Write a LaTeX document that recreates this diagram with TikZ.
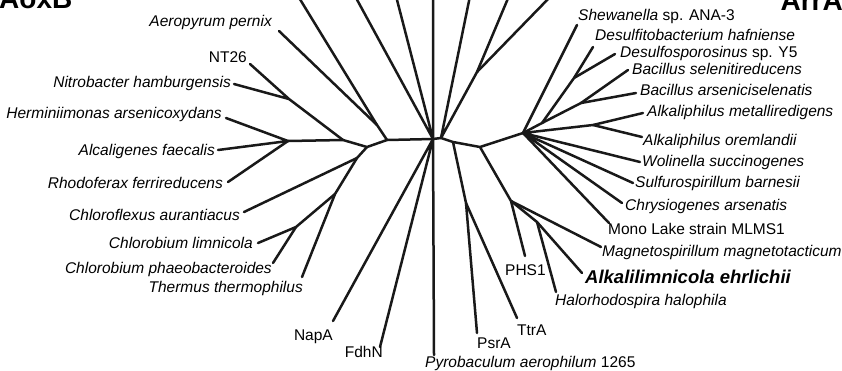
\documentclass[tikz,border=0pt]{standalone}
\usepackage{fontspec}
\setmainfont{Liberation Sans}
\usepackage{xcolor}
\usepackage{tikz}
\usetikzlibrary{positioning}

\begin{document}
\begin{tikzpicture}[x=1pt, y=-1pt,
        branch/.style={line width=2.5pt, line cap=round, line join=round, draw=black!90},
        taxon/.style={font=\fontsize{15.5}{18}\selectfont\itshape, inner sep=0pt},
        strain/.style={font=\fontsize{15.5}{18}\selectfont, inner sep=0pt},
        enzyme/.style={font=\fontsize{28}{32}\selectfont\bfseries, inner sep=0pt}]

        \useasboundingbox (0,0) rectangle (842,370);

        \coordinate (root) at (433,139);
        \coordinate (rootr) at (441,138);
        \coordinate (a) at (387,140);
        \coordinate (n1) at (377,125);
        \coordinate (b) at (367,147);
        \coordinate (c) at (343,140);
        \coordinate (nn) at (289,99);
        \coordinate (e) at (288,141);
        \coordinate (d) at (357,158);
        \coordinate (f) at (335,194);
        \coordinate (g) at (296,227);
        \coordinate (tr) at (477,72);
        \coordinate (j1) at (453,142);
        \coordinate (h) at (466,203);
        \coordinate (j) at (480,147);
        \coordinate (k) at (523,133);
        \coordinate (t) at (542,123);
        \coordinate (p) at (574,78);
        \coordinate (q) at (581,103);
        \coordinate (s) at (593,125);
        \coordinate (l) at (511,201);
        \coordinate (m) at (537,222);

        \coordinate (top1) at (298,-4);
        \coordinate (top2) at (355,-4);
        \coordinate (top3) at (396,-4);
        \coordinate (top4) at (433,-4);
        \coordinate (top5) at (470,-4);
        \coordinate (top6) at (509,-4);
        \coordinate (top7) at (551,-4);

        \coordinate (aero) at (279,31);
        \coordinate (nt26) at (250,64);
        \coordinate (nitro) at (234,84);
        \coordinate (hermi) at (226,118);
        \coordinate (alcal) at (218,150);
        \coordinate (rhodo) at (228,182);
        \coordinate (chlorof) at (244,212);
        \coordinate (climn) at (258,243);
        \coordinate (cphaeo) at (273,263);
        \coordinate (thermus) at (302,277);
        \coordinate (napa) at (333,321);
        \coordinate (fdhn) at (380,347);
        \coordinate (pyro) at (434,355);
        \coordinate (psra) at (477,333);
        \coordinate (ttra) at (517,318);
        \coordinate (phs1) at (525,256);
        \coordinate (halo) at (556,292);
        \coordinate (alkali) at (582,273);
        \coordinate (magneto) at (601,247);
        \coordinate (mono) at (609,223);
        \coordinate (chrysio) at (622,203);
        \coordinate (sulfur) at (633,183);
        \coordinate (wolin) at (640,162);
        \coordinate (oreml) at (642,137);
        \coordinate (metal) at (643,113);
        \coordinate (bacars) at (636,93);
        \coordinate (bacsel) at (628,70);
        \coordinate (desulfo) at (615,54);
        \coordinate (desulfito) at (593,47);
        \coordinate (shew) at (577,25);

        \draw[branch] (top4) -- (root) -- (pyro);
        \draw[branch] (top2) -- (root) -- (top3);
        \draw[branch] (napa) -- (root) -- (fdhn);
        \draw[branch] (a) -- (root) -- (rootr) -- (j1) -- (j) -- (k);
        \draw[branch] (top5) -- (rootr) -- (tr) -- (top6);
        \draw[branch] (tr) -- (top7);

        \draw[branch] (top1) -- (n1) -- (a) -- (b) -- (c) -- (e);
        \draw[branch] (aero) -- (n1);
        \draw[branch] (nt26) -- (nn) -- (nitro);
        \draw[branch] (nn) -- (c);
        \draw[branch] (hermi) -- (e) -- (alcal);
        \draw[branch] (rhodo) -- (e);
        \draw[branch] (b) -- (d) -- (chlorof);
        \draw[branch] (d) -- (f) -- (thermus);
        \draw[branch] (f) -- (g) -- (climn);
        \draw[branch] (g) -- (cphaeo);

        \draw[branch] (j1) -- (h) -- (psra);
        \draw[branch] (h) -- (ttra);
        \draw[branch] (j) -- (l) -- (phs1);
        \draw[branch] (l) -- (magneto);
        \draw[branch] (l) -- (m) -- (alkali);
        \draw[branch] (m) -- (halo);

        \draw[branch] (shew) -- (k) -- (mono);
        \draw[branch] (chrysio) -- (k) -- (sulfur);
        \draw[branch] (wolin) -- (k) -- (s) -- (metal);
        \draw[branch] (s) -- (oreml);
        \draw[branch] (k) -- (t) -- (p) -- (desulfito);
        \draw[branch] (p) -- (desulfo);
        \draw[branch] (t) -- (q) -- (bacsel);
        \draw[branch] (q) -- (bacars);

        \node[enzyme, anchor=base west] (aoxb) at (-1,8) {AoxB};
        \node[enzyme, anchor=base east] (arra) at (843,10) {ArrA};

        \node[taxon, anchor=base east] (aeroL) at (272,26) {Aeropyrum pernix};
        \node[strain, anchor=base east] (nt26L) at (247,62) {NT26};
        \node[taxon, anchor=base east] (nitroL) at (231,87) {Nitrobacter hamburgensis};
        \node[taxon, anchor=base east] (hermiL) at (222,118) {Herminiimonas arsenicoxydans};
        \node[taxon, anchor=base east] (alcalL) at (215,155) {Alcaligenes faecalis};
        \node[taxon, anchor=base east] (rhodoL) at (223,188) {Rhodoferax ferrireducens};
        \node[taxon, anchor=base east] (chlorofL) at (240,220) {Chloroflexus aurantiacus};
        \node[taxon, anchor=base east] (climnL) at (253,248) {Chlorobium limnicola};
        \node[taxon, anchor=base east] (cphaeoL) at (272,273) {Chlorobium phaeobacteroides};
        \node[taxon, anchor=base east] (thermusL) at (303,292) {Thermus thermophilus};
        \node[strain, anchor=base east] (napaL) at (333,340) {NapA};
        \node[strain, anchor=base east] (fdhnL) at (383,357) {FdhN};
        \node[strain, anchor=base west] (pyroL) at (425,367) {\textit{Pyrobaculum aerophilum} 1265};

        \node[strain, anchor=base west] (shewL) at (578,20) {\textit{Shewanella} sp. ANA-3};
        \node[taxon, anchor=base west] (desulfitoL) at (595,40) {Desulfitobacterium hafniense};
        \node[strain, anchor=base west] (desulfoL) at (620,57) {\textit{Desulfosporosinus} sp. Y5};
        \node[taxon, anchor=base west] (bacselL) at (632,74) {Bacillus selenitireducens};
        \node[taxon, anchor=base west] (bacarsL) at (640,95) {Bacillus arseniciselenatis};
        \node[taxon, anchor=base west] (metalL) at (647,116) {Alkaliphilus metalliredigens};
        \node[taxon, anchor=base west] (oremlL) at (643,145) {Alkaliphilus oremlandii};
        \node[taxon, anchor=base west] (wolinL) at (642,166) {Wolinella succinogenes};
        \node[taxon, anchor=base west] (sulfurL) at (635,187) {Sulfurospirillum barnesii};
        \node[taxon, anchor=base west] (chrysioL) at (625,210) {Chrysiogenes arsenatis};
        \node[strain, anchor=base west] (monoL) at (608,234) {Mono Lake strain MLMS1};
        \node[taxon, anchor=base west] (magnetoL) at (602,256) {Magnetospirillum magnetotacticum};
        \node[taxon, font=\fontsize{18.5}{22}\selectfont\bfseries\itshape, anchor=base west] (alkaliL) at (585,283) {Alkalilimnicola ehrlichii};
        \node[strain, anchor=base west] (phs1L) at (505,275) {PHS1};
        \node[taxon, anchor=base west] (haloL) at (555,305) {Halorhodospira halophila};
        \node[strain, anchor=base west] (ttraL) at (517,335) {TtrA};
        \node[strain, anchor=base west] (psraL) at (477,348) {PsrA};

    \end{tikzpicture}
\end{document}
